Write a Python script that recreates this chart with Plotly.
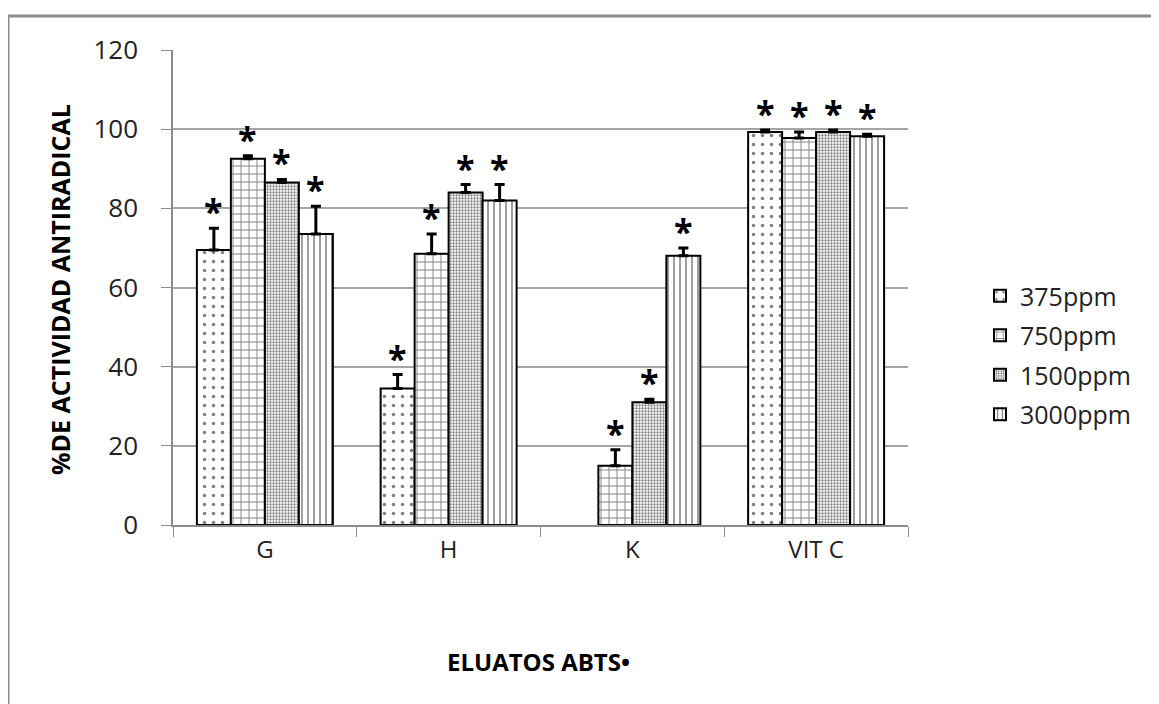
import plotly.graph_objects as go

categories = ["G", "H", "K", "VIT C"]
series_names = ["375ppm", "750ppm", "1500ppm", "3000ppm"]
values = {
    "375ppm": [69.5, 34.5, None, 99.3],
    "750ppm": [92.5, 68.5, 15.0, 97.8],
    "1500ppm": [86.5, 84.0, 31.0, 99.3],
    "3000ppm": [73.5, 82.0, 68.0, 98.2],
}
errors = {
    "375ppm": [5.5, 3.5, 0, 0.5],
    "750ppm": [0.8, 5.0, 4.0, 1.5],
    "1500ppm": [0.8, 2.0, 0.8, 0.5],
    "3000ppm": [7.0, 4.0, 2.0, 0.5],
}
y_ticks = [0, 20, 40, 60, 80, 100, 120]

patterns = {
    "375ppm": dict(shape=".", size=9, solidity=0.12),
    "750ppm": dict(shape="+", size=8, solidity=0.22),
    "1500ppm": dict(shape=".", size=3, solidity=0.45),
    "3000ppm": dict(shape="|", size=6, solidity=0.25),
}

FONT = "Open Sans"
# page body has an 8px margin; plot area should sit at x 173..908, y 50..525
PL, PT, PW, PH = 173, 50, 735, 475
OFF = 8

fig = go.Figure()
for name in series_names:
    fig.add_trace(go.Bar(
        name=name,
        x=categories,
        y=values[name],
        legendgroup=name,
        marker=dict(
            color="white",
            line=dict(color="black", width=2),
            pattern=dict(fgcolor="black", bgcolor="white", **patterns[name]),
        ),
        error_y=dict(type="data", array=errors[name],
                     arrayminus=[0] * len(categories),
                     color="black", thickness=3, width=5),
    ))

annotations = []
group_w = 1 - 0.26
bw = group_w / len(series_names)
for i, name in enumerate(series_names):
    off = -group_w / 2 + bw * (i + 0.5)
    for j, cat in enumerate(categories):
        v = values[name][j]
        if v is None:
            continue
        annotations.append(dict(
            x=j + off, y=v + errors[name][j], xref="x", yref="y",
            text="<b>*</b>", showarrow=False, yanchor="bottom",
            font=dict(family=FONT, size=34, color="black"), yshift=-8,
        ))

annotations.append(dict(
    x=(60 - PL) / PW, y=(PT + PH - 290) / PH, xref="paper", yref="paper",
    text="<b>%DE ACTIVIDAD ANTIRADICAL</b>", textangle=-90, showarrow=False,
    font=dict(family=FONT, size=25, color="black"), xanchor="center", yanchor="middle",
))
annotations.append(dict(
    x=(538 - PL) / PW, y=(PT + PH - 661) / PH, xref="paper", yref="paper",
    text="<b>ELUATOS ABTS•</b>", showarrow=False,
    font=dict(family=FONT, size=24, color="black"), xanchor="center", yanchor="middle",
))

fig.update_layout(
    width=1159, height=704,
    margin=dict(l=PL - OFF, r=1159 - (PL - OFF) - PW, t=PT - OFF, b=704 - (PT - OFF) - PH),
    paper_bgcolor="white", plot_bgcolor="white",
    barmode="group", bargap=0.26, bargroupgap=0,
    font=dict(family=FONT, color="#222"),
    annotations=annotations,
    legend=dict(
        x=(980 - PL) / PW, y=(PT + PH - 273) / PH, xanchor="left", yanchor="top",
        font=dict(family=FONT, size=25, color="#222"),
        tracegroupgap=4, bgcolor="rgba(0,0,0,0)", itemwidth=30,
    ),
    shapes=[dict(
        type="rect", xref="paper", yref="paper",
        x0=(8 - PL) / PW, x1=(1180 - PL) / PW,
        y0=(PT + PH - 730) / PH, y1=(PT + PH - 16) / PH,
        line=dict(color="#8c8c8c", width=3), fillcolor="rgba(0,0,0,0)", layer="below",
    )],
)
fig.update_xaxes(
    showline=True, linecolor="#8c8c8c", linewidth=1.5,
    ticks="outside", tickson="boundaries", ticklen=10, tickcolor="#8c8c8c",
    tickfont=dict(family=FONT, size=24, color="#222"), showgrid=False,
    ticklabelstandoff=2,
)
fig.update_yaxes(
    range=[0, 120], tickvals=y_ticks, showline=True, linecolor="#8c8c8c", linewidth=1.5,
    ticks="outside", ticklen=10, tickcolor="#8c8c8c",
    tickfont=dict(family=FONT, size=26, color="#222"),
    ticklabelstandoff=18,
    showgrid=True, gridcolor="#a6a6a6", gridwidth=1.5, zeroline=False,
)
fig.write_html("out.html")
